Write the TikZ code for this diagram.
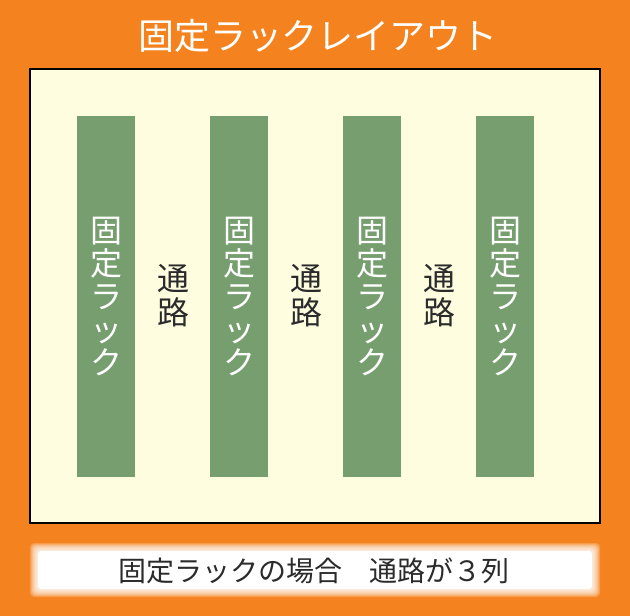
\documentclass[tikz,border=0pt]{standalone}
\usepackage{fontspec}
\newfontfamily\jpfont{Noto Sans CJK JP}
\definecolor{bgorange}{HTML}{F4831F}
\definecolor{floorcream}{HTML}{FFFDE0}
\definecolor{rackgreen}{HTML}{769E6F}
\definecolor{labelgray}{HTML}{2B2B2B}
\tikzset{
  rack/.style={fill=rackgreen,inner sep=0pt,minimum width=58pt,minimum height=361pt,
    text=white,align=center,font=\jpfont\fontsize{32}{33}\selectfont},
  aisle/.style={inner sep=0pt,text=labelgray,align=center,font=\jpfont\fontsize{32}{34}\selectfont}
}
\begin{document}
\begin{tikzpicture}[x=1pt,y=-1pt]
\useasboundingbox (0,0) rectangle (630,616);
\fill[bgorange] (0,0) rectangle (630,616);
\node[text=white,font=\jpfont\fontsize{36}{36}\selectfont] (title) at (318,36) {固定ラックレイアウト};
\draw[line width=1.5pt,fill=floorcream] (30,69) rectangle (600,523);
\foreach \i/\x in {1/106,2/239,3/372,4/505}
	\node[rack] (rack\i) at (\x,296.5) {固\\定\\ラ\\ッ\\ク};
\foreach \i/\x in {1/173,2/306,3/439}
	\node[aisle] (aisle\i) at (\x,296) {通\\路};
% blurred note box
\foreach \d in {8,7,6,5,4,3,2,1}
	\fill[white,opacity=0.2,rounded corners=4pt] (38-\d,551-\d) rectangle (592+\d,589+\d);
\fill[white,rounded corners=3pt] (38,551) rectangle (592,589);
\node[text=labelgray,font=\jpfont\fontsize{28}{28}\selectfont] (note) at (314,571) {固定ラックの場合　通路が３列};
\end{tikzpicture}
\end{document}
